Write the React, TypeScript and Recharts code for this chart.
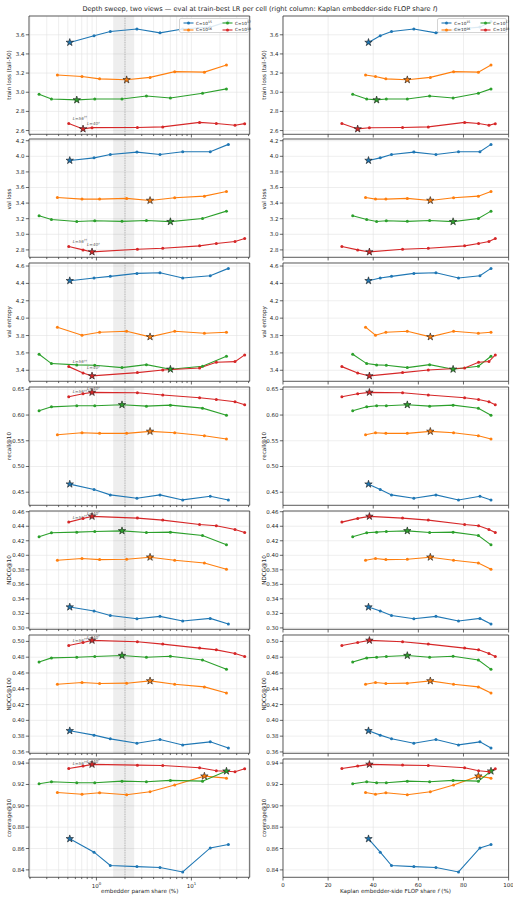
import React from 'react'
import { LineChart, Line, XAxis, YAxis, CartesianGrid, ReferenceArea, ReferenceLine } from 'recharts'

const budgetExp = ['15', '16', '17', '18']
const colors = ['#1f77b4', '#ff7f0e', '#2ca02c', '#d62728']

// embedder param share (%) per depth, left column
const paramShareC15 = [0.524, 0.944, 1.4, 2.67, 4.67, 8.1, 15.8, 24.5]
const paramShareC16 = [0.388, 0.705, 1.08, 2.08, 3.67, 6.67, 13.7, 23.4]
const paramShareC17 = [0.249, 0.336, 0.621, 0.96, 1.86, 3.36, 6.01, 13.1, 23.4]
const paramShareC18 = [0.511, 0.723, 0.899, 2.7, 4.99, 12.2, 18.3, 28.8, 36.4]

// Kaplan embedder-side FLOP share f (%), right column
const flopShareC15 = [37.9, 43.1, 48.1, 58.0, 67.8, 77.8, 87.3, 92.2]
const flopShareC16 = [36.6, 41.0, 45.6, 55.1, 65.3, 75.6, 86.6, 92.2]
const flopShareC17 = [30.9, 37.1, 41.5, 45.8, 55.1, 65.0, 75.4, 86.6, 92.2]
const flopShareC18 = [26.1, 33.1, 38.3, 53.0, 64.4, 80.5, 86.7, 91.3, 94.1]

const trainLossC15 = [3.52, 3.59, 3.635, 3.66, 3.62, 3.66, 3.68, 3.74]
const trainLossC16 = [3.18, 3.165, 3.14, 3.13, 3.155, 3.215, 3.21, 3.285]
const trainLossC17 = [2.98, 2.93, 2.92, 2.93, 2.93, 2.96, 2.94, 2.99, 3.035]
const trainLossC18 = [2.673, 2.617, 2.63, 2.632, 2.638, 2.685, 2.673, 2.655, 2.672]

const valLossC15 = [3.947, 3.98, 4.024, 4.054, 4.024, 4.059, 4.059, 4.153]
const valLossC16 = [3.472, 3.451, 3.451, 3.46, 3.434, 3.468, 3.489, 3.549]
const valLossC17 = [3.237, 3.19, 3.164, 3.173, 3.166, 3.177, 3.162, 3.203, 3.297]
const valLossC18 = [2.843, 2.8, 2.774, 2.809, 2.822, 2.852, 2.882, 2.907, 2.946]

const valEntropyC15 = [4.431, 4.462, 4.481, 4.515, 4.523, 4.462, 4.488, 4.573]
const valEntropyC16 = [3.896, 3.804, 3.838, 3.85, 3.785, 3.85, 3.827, 3.838]
const valEntropyC17 = [3.585, 3.477, 3.462, 3.458, 3.431, 3.465, 3.412, 3.446, 3.562]
const valEntropyC18 = [3.442, 3.369, 3.335, 3.373, 3.404, 3.427, 3.492, 3.5, 3.577]

const recallC15 = [0.4657, 0.4552, 0.4448, 0.4382, 0.4448, 0.435, 0.4422, 0.435]
const recallC16 = [0.5618, 0.5657, 0.5644, 0.5644, 0.5683, 0.5657, 0.5598, 0.5533]
const recallC17 = [0.6082, 0.616, 0.618, 0.618, 0.62, 0.6173, 0.6193, 0.6134, 0.5997]
const recallC18 = [0.6356, 0.6415, 0.6441, 0.6435, 0.6389, 0.6337, 0.6304, 0.6258, 0.62]

const ndcg10C15 = [0.3287, 0.3232, 0.3172, 0.3126, 0.3159, 0.3095, 0.3131, 0.3055]
const ndcg10C16 = [0.3932, 0.3955, 0.3941, 0.3946, 0.3974, 0.3932, 0.3895, 0.3808]
const ndcg10C17 = [0.4255, 0.431, 0.4319, 0.4328, 0.4337, 0.4314, 0.4319, 0.4273, 0.4144]
const ndcg10C18 = [0.4457, 0.4508, 0.4536, 0.4512, 0.4485, 0.4425, 0.4407, 0.4356, 0.4314]

const ndcg100C15 = [0.3868, 0.3813, 0.3766, 0.3711, 0.3758, 0.3689, 0.3728, 0.3651]
const ndcg100C16 = [0.4458, 0.4479, 0.4466, 0.4471, 0.45, 0.4458, 0.4424, 0.4347]
const ndcg100C17 = [0.474, 0.4791, 0.4799, 0.4808, 0.4821, 0.4799, 0.4812, 0.4765, 0.4646]
const ndcg100C18 = [0.4949, 0.4987, 0.5013, 0.4996, 0.4966, 0.4915, 0.4893, 0.4846, 0.4808]

const coverageC15 = [0.8691, 0.8566, 0.8441, 0.8431, 0.8422, 0.8381, 0.8606, 0.8638]
const coverageC16 = [0.9125, 0.9109, 0.9122, 0.9103, 0.9131, 0.9194, 0.9278, 0.9259]
const coverageC17 = [0.9206, 0.9225, 0.9216, 0.9216, 0.9231, 0.9225, 0.9238, 0.9231, 0.9325]
const coverageC18 = [0.935, 0.9372, 0.9388, 0.9381, 0.9378, 0.9356, 0.9328, 0.9319, 0.9347]

const trainLossTicks = [2.6, 2.8, 3.0, 3.2, 3.4, 3.6]
const valLossTicks = [2.8, 3.0, 3.2, 3.4, 3.6, 3.8, 4.0, 4.2]
const valEntropyTicks = [3.4, 3.6, 3.8, 4.0, 4.2, 4.4, 4.6]
const recallTicks = [0.45, 0.5, 0.55, 0.6, 0.65]
const ndcg10Ticks = [0.3, 0.32, 0.34, 0.36, 0.38, 0.4, 0.42, 0.44, 0.46]
const ndcg100Ticks = [0.36, 0.38, 0.4, 0.42, 0.44, 0.46, 0.48, 0.5]
const coverageTicks = [0.84, 0.86, 0.88, 0.9, 0.92, 0.94]

const logTicks = [0.2, 0.3, 0.4, 0.5, 0.6, 0.7, 0.8, 0.9, 1, 2, 3, 4, 5, 6, 7, 8, 9, 10, 20, 30, 40]
const flopTicks = [0, 20, 40, 60, 80, 100]

const paramShare = [paramShareC15, paramShareC16, paramShareC17, paramShareC18]
const flopShare = [flopShareC15, flopShareC16, flopShareC17, flopShareC18]

const panels = [
  { label: 'train loss (tail-50)', lower: true, ticks: trainLossTicks, digits: 1, series: [trainLossC15, trainLossC16, trainLossC17, trainLossC18] },
  { label: 'val loss', lower: true, ticks: valLossTicks, digits: 1, series: [valLossC15, valLossC16, valLossC17, valLossC18] },
  { label: 'val entropy', lower: true, ticks: valEntropyTicks, digits: 1, series: [valEntropyC15, valEntropyC16, valEntropyC17, valEntropyC18] },
  { label: 'recall@10', lower: false, ticks: recallTicks, digits: 2, series: [recallC15, recallC16, recallC17, recallC18] },
  { label: 'NDCG@10', lower: false, ticks: ndcg10Ticks, digits: 2, series: [ndcg10C15, ndcg10C16, ndcg10C17, ndcg10C18] },
  { label: 'NDCG@100', lower: false, ticks: ndcg100Ticks, digits: 2, series: [ndcg100C15, ndcg100C16, ndcg100C17, ndcg100C18] },
  { label: 'coverage@10', lower: false, ticks: coverageTicks, digits: 2, series: [coverageC15, coverageC16, coverageC17, coverageC18] },
]

// layout (px)
const LEFT_X = 29.3
const LEFT_W = 220.7
const RIGHT_X = 282.7
const RIGHT_W = 225.6
const ROW_TOP = 15.5
const ROW_PITCH = 123.85
const PLOT_H = 118.3
const YW = 28
const MT = 5
const MR = 5
const FONT = 'DejaVu Sans, sans-serif'
const INK = '#262626'
const TICK_FS = 5.5

function starPath(cx: number, cy: number, R: number) {
  const r = R * 0.382
  let d = ''
  for (let k = 0; k < 10; k++) {
    const rad = k % 2 === 0 ? R : r
    const a = -Math.PI / 2 + (k * Math.PI) / 5
    d += (k ? 'L' : 'M') + (cx + rad * Math.cos(a)).toFixed(2) + ',' + (cy + rad * Math.sin(a)).toFixed(2)
  }
  return d + 'Z'
}

function bestIndex(ys: number[], lower: boolean) {
  let best = 0
  ys.forEach((v, i) => {
    if (lower ? v < ys[best] : v > ys[best]) best = i
  })
  return best
}

const makeDot = (color: string, best: number, annotate: boolean) => (props: any) => {
  const { cx, cy, index } = props
  if (cx == null || cy == null) return <g key={index} />
  return (
    <g key={index}>
      {index === best ? (
        <path d={starPath(cx, cy, 3.9)} fill={color} stroke="#1a1a1a" strokeWidth={0.6} />
      ) : (
        <circle cx={cx} cy={cy} r={1.5} fill={color} />
      )}
      {annotate && index === 0 && (
        <text x={cx + 4} y={cy - 3.5} fontSize={4.2} fill="#555" fontStyle="italic" fontFamily={FONT}>
          L=56<tspan dy={-1.6} fontSize={3}>††</tspan>
        </text>
      )}
      {annotate && index === 1 && (
        <text x={cx + 4} y={cy - 3.5} fontSize={4.2} fill="#555" fontStyle="italic" fontFamily={FONT}>
          L=40<tspan dy={-1.6} fontSize={3}>†</tspan>
        </text>
      )}
    </g>
  )
}

function XTick(props: any) {
  const { x, y, payload, isLeft, showLabel } = props
  const v = payload.value
  const major = isLeft ? v === 1 || v === 10 : true
  return (
    <g>
      <line x1={x} x2={x} y1={y} y2={y + (major ? 3.2 : 1.8)} stroke={INK} strokeWidth={0.7} />
      {showLabel && major && isLeft && (
        <text x={x} y={y + 10.5} textAnchor="middle" fontSize={TICK_FS} fill={INK} fontFamily={FONT}>
          10<tspan dy={-2.4} fontSize={3.9}>{v === 1 ? '0' : '1'}</tspan>
        </text>
      )}
      {showLabel && !isLeft && (
        <text x={x} y={y + 10} textAnchor="middle" fontSize={TICK_FS} fill={INK} fontFamily={FONT}>
          {v}
        </text>
      )}
    </g>
  )
}

function YTick(props: any) {
  const { x, y, payload, digits } = props
  return (
    <g>
      <line x1={x - 3.2} x2={x} y1={y} y2={y} stroke={INK} strokeWidth={0.7} />
      <text x={x - 4.6} y={y} dy="0.36em" textAnchor="end" fontSize={TICK_FS} fill={INK} fontFamily={FONT}>
        {payload.value.toFixed(digits)}
      </text>
    </g>
  )
}

function Panel({ row, col }: { row: number; col: number }) {
  const p = panels[row]
  const isLeft = col === 0
  const bottom = row === panels.length - 1
  const plotX = isLeft ? LEFT_X : RIGHT_X
  const plotW = isLeft ? LEFT_W : RIGHT_W
  const top = ROW_TOP + row * ROW_PITCH
  const xh = bottom ? 14 : 5
  const all = p.series.flat()
  const lo = Math.min(...all)
  const hi = Math.max(...all)
  const pad = (hi - lo) * 0.05
  const yDomain: [number, number] = [lo - pad, hi + pad]
  const xDomain: [number, number] = isLeft ? [0.195, 41.1] : [0, 100]
  const xs = isLeft ? paramShare : flopShare

  return (
    <div style={{ position: 'absolute', left: plotX - YW, top: top - MT }}>
      <LineChart
        width={YW + plotW + MR}
        height={MT + PLOT_H + xh}
        margin={{ top: MT, right: MR, bottom: 0, left: 0 }}
      >
        <CartesianGrid stroke="#e2e2e2" strokeWidth={0.6} />
        <XAxis
          dataKey="x"
          type="number"
          scale={isLeft ? 'log' : 'linear'}
          domain={xDomain}
          ticks={isLeft ? logTicks : flopTicks}
          allowDataOverflow
          interval={0}
          height={xh}
          tickSize={0}
          tickMargin={0}
          axisLine={false}
          tickLine={false}
          tick={<XTick isLeft={isLeft} showLabel={bottom} />}
        />
        <YAxis
          type="number"
          domain={yDomain}
          ticks={p.ticks}
          allowDataOverflow
          interval={0}
          width={YW}
          tickSize={0}
          tickMargin={0}
          axisLine={false}
          tickLine={false}
          tick={<YTick digits={p.digits} />}
        />
        {isLeft && <ReferenceArea x1={1.5} x2={2.5} fill="#000" fillOpacity={0.065} stroke="none" ifOverflow="visible" />}
        {isLeft && <ReferenceLine x={2} stroke="#a0a0a0" strokeWidth={0.7} strokeDasharray="1 1.4" />}
        {p.series.map((ys, s) => (
          <Line
            key={s}
            data={xs[s].map((x, i) => ({ x, y: ys[i] }))}
            dataKey="y"
            stroke={colors[s]}
            strokeWidth={1.1}
            isAnimationActive={false}
            activeDot={false}
            dot={makeDot(colors[s], bestIndex(ys, p.lower), isLeft && s === 3)}
          />
        ))}
        <ReferenceArea
          x1={xDomain[0]}
          x2={xDomain[1]}
          y1={yDomain[0]}
          y2={yDomain[1]}
          fill="none"
          stroke="#3a3a3a"
          strokeWidth={0.8}
          ifOverflow="visible"
        />
      </LineChart>
    </div>
  )
}

function Legend({ right }: { right: number }) {
  const w = 70
  return (
    <div
      style={{
        position: 'absolute',
        left: right - w,
        top: 17.5,
        width: w,
        height: 15.5,
        border: '0.8px solid #d4d4d4',
        borderRadius: 2,
        background: 'rgba(255,255,255,0.85)',
        boxSizing: 'border-box',
      }}
    >
      {budgetExp.map((e, s) => {
        const c = Math.floor(s / 2)
        const r = s % 2
        return (
          <div key={e} style={{ position: 'absolute', left: 3 + c * 39, top: 1.3 + r * 6.8, height: 6, width: 36 }}>
            <svg width={11} height={6} style={{ position: 'absolute', left: 0, top: 0 }}>
              <line x1={0.5} x2={10.5} y1={3} y2={3} stroke={colors[s]} strokeWidth={1.1} />
              <circle cx={5.5} cy={3} r={1.5} fill={colors[s]} />
            </svg>
            <span
              style={{
                position: 'absolute',
                left: 13,
                top: -0.3,
                fontSize: 4.3,
                lineHeight: '7px',
                whiteSpace: 'nowrap',
                color: INK,
                fontFamily: FONT,
              }}
            >
              C=10<span style={{ fontSize: 3.1, position: 'relative', top: -1.6 }}>{e}</span>
            </span>
          </div>
        )
      })}
    </div>
  )
}

function Text({ x, y, rotate, size, children }: { x: number; y: number; rotate?: boolean; size: number; children: React.ReactNode }) {
  return (
    <div
      style={{
        position: 'absolute',
        left: x,
        top: y,
        transform: `translate(-50%, -50%)${rotate ? ' rotate(-90deg)' : ''}`,
        whiteSpace: 'nowrap',
        fontSize: size,
        lineHeight: 1,
        color: INK,
        fontFamily: FONT,
      }}
    >
      {children}
    </div>
  )
}

export default function App() {
  return (
    <div style={{ position: 'absolute', left: 0, top: 0, width: 520, height: 901, background: '#fff', overflow: 'hidden' }}>
      <Text x={260} y={8.5} size={6.6}>
        Depth sweep, two views — eval at train-best LR per cell (right column: Kaplan embedder-side FLOP share <i>f</i>)
      </Text>
      {panels.map((p, row) => (
        <React.Fragment key={p.label}>
          <Panel row={row} col={0} />
          <Panel row={row} col={1} />
          <Text x={9.5} y={ROW_TOP + row * ROW_PITCH + PLOT_H / 2} rotate size={5.6}>
            {p.label}
          </Text>
          <Text x={264.5} y={ROW_TOP + row * ROW_PITCH + PLOT_H / 2} rotate size={5.6}>
            {p.label}
          </Text>
        </React.Fragment>
      ))}
      <Legend right={LEFT_X + LEFT_W - 1} />
      <Legend right={RIGHT_X + RIGHT_W - 1} />
      <Text x={LEFT_X + LEFT_W / 2} y={892} size={5.6}>
        embedder param share (%)
      </Text>
      <Text x={RIGHT_X + RIGHT_W / 2} y={892} size={5.6}>
        Kaplan embedder-side FLOP share <i>f</i> (%)
      </Text>
    </div>
  )
}
